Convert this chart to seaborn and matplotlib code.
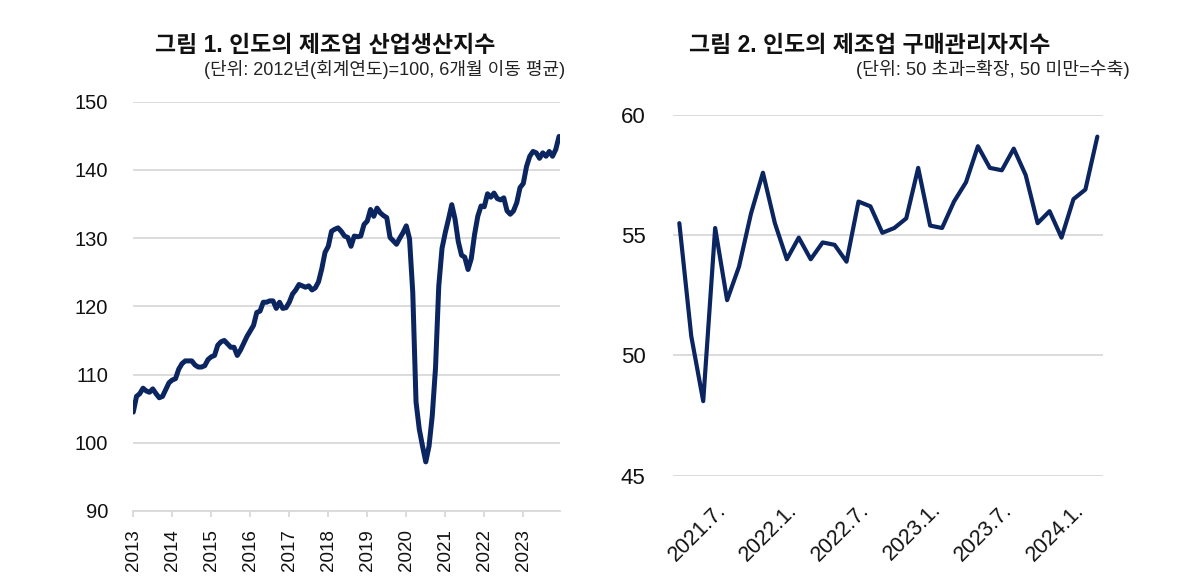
import numpy as np
import pandas as pd
import matplotlib.pyplot as plt
import seaborn as sns

# India manufacturing IIP, 6-month moving average, monthly from 2013.1
iip_years = [str(y) for y in range(2013, 2024)]
iip_values = [
    104.5, 106.8, 107.2, 108.0, 107.6, 107.4, 107.9, 107.2, 106.6, 106.8, 107.8, 108.8,
    109.2, 109.4, 110.8, 111.6, 112.0, 112.0, 112.0, 111.4, 111.1, 111.1, 111.3, 112.2,
    112.6, 112.8, 114.3, 114.8, 115.0, 114.5, 114.0, 114.0, 112.8, 113.6, 114.6, 115.6,
    116.4, 117.2, 119.1, 119.3, 120.6, 120.6, 120.8, 120.8, 119.7, 120.6, 119.7, 119.8,
    120.6, 121.8, 122.4, 123.2, 123.0, 122.8, 123.0, 122.4, 122.7, 123.6, 125.5, 127.9,
    128.8, 131.0, 131.3, 131.5, 131.0, 130.3, 130.1, 128.8, 130.3, 130.2, 130.3, 132.0,
    132.5, 134.2, 133.2, 134.4, 133.7, 133.3, 133.0, 130.1, 129.6, 129.1, 130.0, 130.8,
    131.8, 129.9, 122.0, 106.0, 102.0, 99.5, 97.2, 99.5, 104.0, 111.0, 123.0, 128.5,
    130.8, 132.8, 134.9, 132.8, 129.5, 127.5, 127.2, 125.4, 127.0, 130.5, 133.2, 134.7,
    134.6, 136.5, 136.0, 136.6, 135.8, 135.6, 135.9, 134.0, 133.5, 134.0, 135.2, 137.4,
    138.0, 140.5, 142.0, 142.7, 142.5, 141.7, 142.5, 142.0, 142.7, 142.0, 143.0, 144.9,
]

# India manufacturing PMI, 2021.4 - 2024.3
pmi_months = (
    [f"2021.{m}." for m in range(4, 13)]
    + [f"2022.{m}." for m in range(1, 13)]
    + [f"2023.{m}." for m in range(1, 13)]
    + [f"2024.{m}." for m in range(1, 4)]
)
pmi_values = [
    55.5, 50.8, 48.1, 55.3, 52.3, 53.7, 55.9, 57.6, 55.5,
    54.0, 54.9, 54.0, 54.7, 54.6, 53.9, 56.4, 56.2, 55.1, 55.3, 55.7, 57.8,
    55.4, 55.3, 56.4, 57.2, 58.7, 57.8, 57.7, 58.6, 57.5, 55.5, 56.0, 54.9,
    56.5, 56.9, 59.1,
]

navy = "#0b2560"
grid_c = "#d9d9d9"

sns.set_theme(style="white")
plt.rcParams["font.family"] = ["Liberation Sans", "Noto Sans CJK KR"]

iip = pd.DataFrame({"idx": np.arange(len(iip_values)), "value": iip_values})
pmi = pd.DataFrame({"idx": np.arange(len(pmi_values)), "month": pmi_months, "value": pmi_values})

fig = plt.figure(figsize=(11.92, 5.86), dpi=100)
ax1 = fig.add_axes([0.1118, 0.128, 0.358, 0.6985])
ax2 = fig.add_axes([0.5649, 0.1882, 0.3607, 0.6156])

# left: IIP
sns.lineplot(data=iip, x="idx", y="value", ax=ax1, color=navy, linewidth=3.6)
ax1.set_xlim(0, len(iip_values) - 0.7)
ax1.set_ylim(90, 150)
ax1.set_yticks(range(90, 151, 10))
ax1.set_xticks(range(0, len(iip_values), 12))
ax1.set_xticklabels(iip_years, rotation=90)
ax1.yaxis.grid(True, color=grid_c, linewidth=1.3)
for s in ["top", "right", "left"]:
    ax1.spines[s].set_visible(False)
ax1.spines["bottom"].set_color(grid_c)
ax1.spines["bottom"].set_linewidth(1.3)
ax1.tick_params(axis="x", bottom=True, length=4, width=1.3, color=grid_c,
                labelsize=13.5, pad=9, labelcolor="#111111")
ax1.tick_params(axis="y", left=False, labelsize=14.5, pad=12, labelcolor="#111111")
ax1.set_xlabel("")
ax1.set_ylabel("")

# right: PMI
sns.lineplot(data=pmi, x="idx", y="value", ax=ax2, color=navy, linewidth=3.0)
ax2.set_xlim(-0.5, len(pmi_values) - 0.5)
ax2.set_ylim(45, 60)
ax2.set_yticks([45, 50, 55, 60])
tick_pos = list(range(3, len(pmi_values), 6))
ax2.set_xticks(tick_pos)
ax2.set_xticklabels([pmi_months[i] for i in tick_pos], rotation=45,
                    ha="right", rotation_mode="anchor")
ax2.yaxis.grid(True, color=grid_c, linewidth=1.3)
for s in ["top", "right", "left", "bottom"]:
    ax2.spines[s].set_visible(False)
ax2.tick_params(axis="x", bottom=False, labelsize=15.5, pad=11, labelcolor="#111111")
ax2.tick_params(axis="y", left=False, labelsize=16, pad=14, labelcolor="#111111")
ax2.set_xlabel("")
ax2.set_ylabel("")

# titles
fig.text(0.2727, 0.922, "그림 1. 인도의 제조업 산업생산지수", ha="center", va="center",
         fontsize=16.5, fontweight="bold", color="#111111")
fig.text(0.474, 0.882, "(단위: 2012년(회계연도)=100, 6개월 이동 평균)", ha="right",
         va="center", fontsize=13, color="#222222")
fig.text(0.7299, 0.922, "그림 2. 인도의 제조업 구매관리자지수", ha="center", va="center",
         fontsize=16.5, fontweight="bold", color="#111111")
fig.text(0.948, 0.882, "(단위: 50 초과=확장, 50 미만=수축)", ha="right",
         va="center", fontsize=13.2, color="#222222")

fig.savefig("out.png", dpi=100)
